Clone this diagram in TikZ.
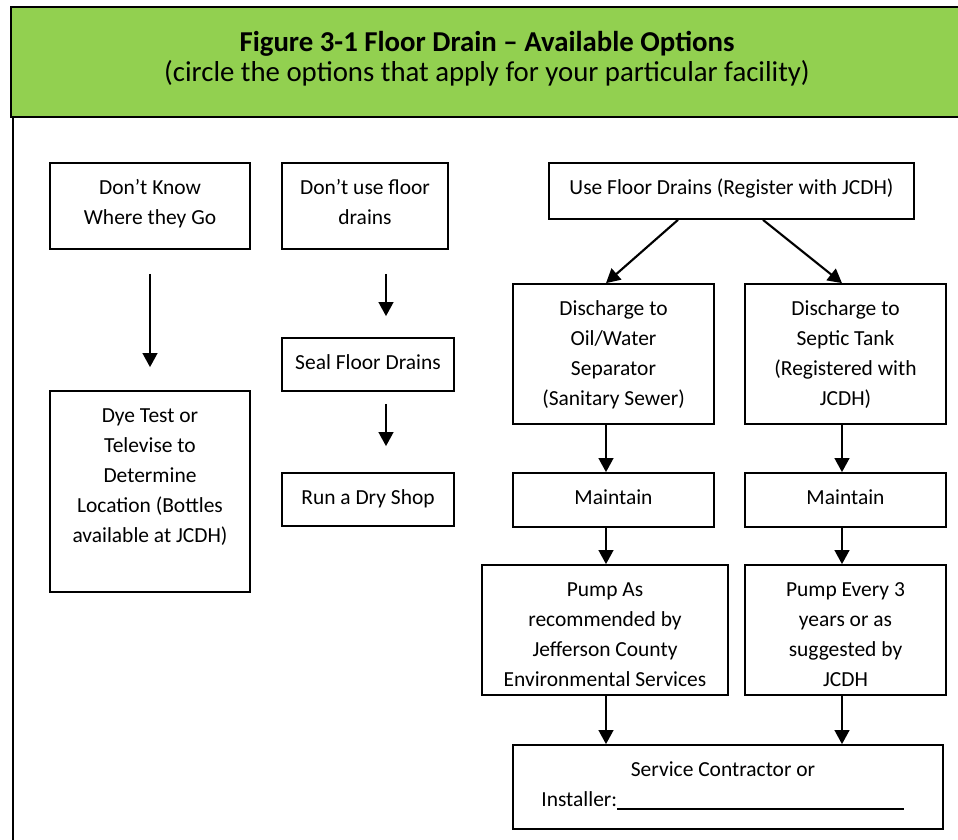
\documentclass[tikz,border=0pt]{standalone}
\usepackage{fontspec}
\setmainfont{Carlito}
\usetikzlibrary{arrows.meta,calc}
\definecolor{titlegreen}{HTML}{92D050}

\begin{document}
\begin{tikzpicture}[x=0.75pt,y=-0.75pt,
  box/.style={draw=black, line width=1.3pt, rectangle, inner sep=0pt},
  txt/.style={anchor=north, inner sep=0pt, align=center,
    font=\fontsize{16.1}{22.5}\selectfont},
  arr/.style={line width=1.6pt, -{Triangle[width=11pt,length=10.5pt]}},
  frame/.style={draw=black, line width=1.5pt},
]
\useasboundingbox (0,0) rectangle (958,840);
\clip (0,0) rectangle (958,840);
\fill[white] (0,0) rectangle (958,840);

% title band and left frame edge
\path[frame, fill=titlegreen] (11,7) rectangle (975,117);
\draw[frame] (13,117) -- (13,850);
\node (title) [anchor=base, inner sep=0pt, font=\fontsize{21.6}{22.5}\selectfont\bfseries]
  at (487,51) {Figure 3-1 Floor Drain – Available Options};
\node (subtitle) [anchor=base, inner sep=0pt, font=\fontsize{21.6}{22.5}\selectfont]
  at (487,81) {(circle the options that apply for your particular facility)};

% boxes
\node[box, minimum width=150pt,    minimum height=64.5pt]  (know)   at (150,206)   {};
\node[box, minimum width=124.5pt,  minimum height=64.5pt]  (nouse)  at (365,206)   {};
\node[box, minimum width=273.75pt, minimum height=42pt]    (use)    at (731.5,191) {};
\node[box, minimum width=150pt,    minimum height=150.75pt](dye)    at (150,491.5) {};
\node[box, minimum width=129pt,    minimum height=39.75pt] (seal)   at (368,364.5) {};
\node[box, minimum width=129pt,    minimum height=39.75pt] (dry)    at (368,499.5) {};
\node[box, minimum width=150.75pt, minimum height=105pt]   (oil)    at (613.5,354) {};
\node[box, minimum width=150.75pt, minimum height=105pt]   (septic) at (845.5,354) {};
\node[box, minimum width=150.75pt, minimum height=40.5pt]  (mone)   at (613.5,500) {};
\node[box, minimum width=150.75pt, minimum height=40.5pt]  (mtwo)   at (845.5,500) {};
\node[box, minimum width=184.5pt,  minimum height=97.5pt]  (pone)   at (605,630)   {};
\node[box, minimum width=150.75pt, minimum height=97.5pt]  (ptwo)   at (845.5,630) {};
\node[box, minimum width=322.5pt,  minimum height=63pt]    (svc)    at (728,787)   {};

% box texts, top aligned
\node[txt] (knowt)   at ([yshift=-8.25pt]know.north)   {\strut Don’t Know\\Where they Go};
\node[txt] (nouset)  at ([yshift=-8.25pt]nouse.north)  {\strut Don’t use floor\\drains};
\node[txt] (uset)    at ([yshift=-8.25pt]use.north)    {\strut Use Floor Drains (Register with JCDH)};
\node[txt] (dyet)    at ([yshift=-8.25pt]dye.north)    {\strut Dye Test or\\Televise to\\Determine\\Location (Bottles\\available at JCDH)};
\node[txt] (sealt)   at ([yshift=-8.25pt]seal.north)   {\strut Seal Floor Drains};
\node[txt] (dryt)    at ([yshift=-8.25pt]dry.north)    {\strut Run a Dry Shop};
\node[txt] (oilt)    at ([yshift=-8.25pt]oil.north)    {\strut Discharge to\\Oil/Water\\Separator\\(Sanitary Sewer)};
\node[txt] (septict) at ([yshift=-8.25pt]septic.north) {\strut Discharge to\\Septic Tank\\(Registered with\\JCDH)};
\node[txt] (monet)   at ([yshift=-8.25pt]mone.north)   {\strut Maintain};
\node[txt] (mtwot)   at ([yshift=-8.25pt]mtwo.north)   {\strut Maintain};
\node[txt] (ponet)   at ([yshift=-8.25pt]pone.north)   {\strut Pump As\\recommended by\\Jefferson County\\Environmental Services};
\node[txt] (ptwot)   at ([yshift=-8.25pt]ptwo.north)   {\strut Pump Every 3\\years or as\\suggested by\\JCDH};
\node[txt] (svct)    at ([xshift=-3.75pt,yshift=-8.25pt]svc.north) {\strut Service Contractor or};
\node[anchor=base west, inner sep=0pt, font=\fontsize{16.1}{22.5}\selectfont] (inst)
  at ($(svc.north west)+(29,62)$) {Installer:};
\coordinate (ulend) at ($(svc.north west)+(392,65)$);
\draw[line width=1.5pt] (inst.base east |- ulend) -- (ulend);

% connector columns
\coordinate (axb) at (386,0);
\coordinate (colone) at (606,0);
\coordinate (coltwo) at (842,0);
\coordinate (dl) at (678,0);
\coordinate (dr) at (763,0);

% connectors
\draw[arr, shorten <=18pt, shorten >=17.25pt] (know.south) -- (dye.north);
\draw[arr, shorten <=18pt, shorten >=15.75pt] (nouse.south -| axb) -- (seal.north -| axb);
\draw[arr, shorten <=9pt,  shorten >=19.5pt]  (seal.south -| axb) -- (dry.north -| axb);
\draw[arr] (use.south -| dl) -- (oil.north -| colone);
\draw[arr] (use.south -| dr) -- (septic.north -| coltwo);
\draw[arr] (oil.south -| colone)    -- (mone.north -| colone);
\draw[arr] (septic.south -| coltwo) -- (mtwo.north -| coltwo);
\draw[arr] (mone.south -| colone)   -- (pone.north -| colone);
\draw[arr] (mtwo.south -| coltwo)   -- (ptwo.north -| coltwo);
\draw[arr] (pone.south -| colone)   -- (svc.north -| colone);
\draw[arr] (ptwo.south -| coltwo)   -- (svc.north -| coltwo);
\end{tikzpicture}
\end{document}
